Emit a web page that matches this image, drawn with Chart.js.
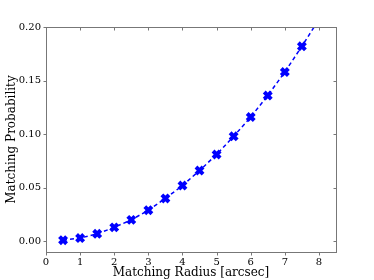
<!DOCTYPE html>
<html>
<head>
<meta charset="utf-8">
<script src="https://cdn.jsdelivr.net/npm/chart.js@4/dist/chart.umd.min.js"></script>
<style>
  html, body { margin: 0; padding: 0; background: #fff; }
  #wrap { width: 374px; height: 280px; }
</style>
</head>
<body>
<div id="wrap"><canvas id="chart" width="374" height="280"></canvas></div>
<script>
// data
const radius = [0.5, 1, 1.5, 2, 2.5, 3, 3.5, 4, 4.5, 5, 5.5, 6, 6.5, 7, 7.5];
const probability = [0.001, 0.003, 0.007, 0.013, 0.020, 0.029, 0.040, 0.052, 0.066, 0.081, 0.098, 0.116, 0.136, 0.158, 0.182];
// dashed fit curve, runs a bit past the last point
const fitRadius = [0.5, 1, 1.5, 2, 2.5, 3, 3.5, 4, 4.5, 5, 5.5, 6, 6.5, 7, 7.5, 8];
const fitProb = [0.001, 0.003, 0.007, 0.013, 0.020, 0.029, 0.040, 0.052, 0.066, 0.081, 0.098, 0.116, 0.136, 0.158, 0.182, 0.207];
const xTicks = [0, 1, 2, 3, 4, 5, 6, 7, 8];
const yTicks = [0.00, 0.05, 0.10, 0.15, 0.20];

const font = 'DejaVu Serif';

// frame + short ticks: outward on left/bottom, inward on top/right
const framePlugin = {
    id: 'frame',
    afterDraw(chart) {
        const ctx = chart.ctx;
        const a = chart.chartArea;
        const xs = chart.scales.x, ys = chart.scales.y;
        const len = 3;
        const L = Math.round(a.left) + 0.5, R = Math.round(a.right) + 0.5;
        const T = Math.round(a.top) + 0.5, B = Math.round(a.bottom) + 0.5;
        ctx.save();
        ctx.strokeStyle = '#777';
        ctx.lineWidth = 1;
        ctx.beginPath();
        xTicks.forEach(v => {
            const px = Math.round(xs.getPixelForValue(v)) + 0.5;
            ctx.moveTo(px, B); ctx.lineTo(px, B + len);
            ctx.moveTo(px, T); ctx.lineTo(px, T + len);
        });
        yTicks.forEach(v => {
            const py = Math.round(ys.getPixelForValue(v)) + 0.5;
            ctx.moveTo(L, py); ctx.lineTo(L - len, py);
            ctx.moveTo(R, py); ctx.lineTo(R - len, py);
        });
        ctx.stroke();
        ctx.strokeRect(L, T, R - L, B - T);
        ctx.restore();
    }
};

new Chart(document.getElementById('chart'), {
    type: 'scatter',
    data: {
        datasets: [
            {
                label: 'fit',
                data: fitRadius.map((x, i) => ({ x: x, y: fitProb[i] })),
                showLine: true,
                borderColor: '#0000ff',
                borderWidth: 1.5,
                borderDash: [4, 3],
                pointRadius: 0,
                fill: false,
                order: 2
            },
            {
                label: 'data',
                data: radius.map((x, i) => ({ x: x, y: probability[i] })),
                showLine: false,
                pointStyle: 'crossRot',
                pointRadius: 5,
                borderWidth: 4,
                borderColor: '#0000ff',
                backgroundColor: '#0000ff',
                order: 1
            }
        ]
    },
    options: {
        responsive: false,
        animation: false,
        layout: { padding: { top: 27, right: 38, left: 0, bottom: 0 } },
        plugins: {
            legend: { display: false },
            tooltip: { enabled: false }
        },
        scales: {
            x: {
                type: 'linear',
                min: 0,
                max: 8.5,
                grid: { display: false, drawTicks: false },
                border: { display: false },
                afterBuildTicks: s => { s.ticks = xTicks.map(v => ({ value: v })); },
                afterFit: s => { s.height = 28; },
                ticks: {
                    color: '#000',
                    padding: 4,
                    maxRotation: 0,
                    font: { family: font, size: 10 },
                    callback: v => String(v)
                },
                title: {
                    display: true,
                    text: 'Matching Radius [arcsec]',
                    color: '#000',
                    padding: { top: 0, bottom: 0 },
                    font: { family: font, size: 12 }
                }
            },
            y: {
                type: 'linear',
                min: -0.01,
                max: 0.20,
                grid: { display: false, drawTicks: false },
                border: { display: false },
                afterBuildTicks: s => { s.ticks = yTicks.map(v => ({ value: v })); },
                afterFit: s => { s.width = 46; },
                ticks: {
                    color: '#000',
                    padding: 5,
                    font: { family: font, size: 10 },
                    callback: v => Number(v).toFixed(2)
                },
                title: {
                    display: true,
                    text: 'Matching Probability',
                    color: '#000',
                    padding: { top: 5, bottom: 0 },
                    font: { family: font, size: 12 }
                }
            }
        }
    },
    plugins: [framePlugin]
});
</script>
</body>
</html>
